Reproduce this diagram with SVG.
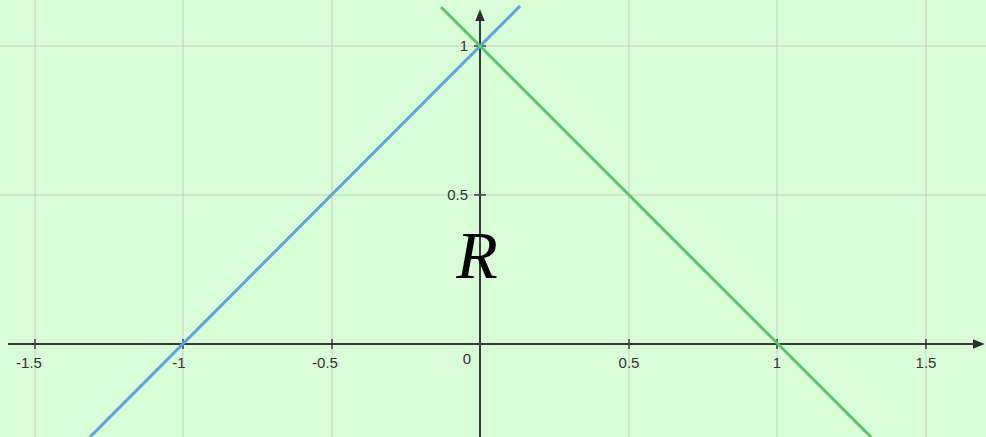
<svg xmlns="http://www.w3.org/2000/svg" width="986" height="437" viewBox="0 0 986 437">
<defs>
<style>
.grid{stroke:#c6cdc4;stroke-width:1}
.axis{stroke:#3a3a3a;stroke-width:2}
.tick{stroke:#3a3a3a;stroke-width:1.5}
.lbl{font-family:"Liberation Sans",Arial,sans-serif;font-size:15px;fill:#333}
</style>
<marker id="ah" viewBox="0 0 10 10" refX="1" refY="5" markerWidth="6" markerHeight="6" orient="auto" markerUnits="strokeWidth">
<path d="M0,1 L10,5 L0,9 z" fill="#2e2e2e"/>
</marker>
</defs>
<rect x="0" y="0" width="986" height="437" fill="#d9fdd6"/>
<g id="grid">
<line class="grid" x1="35" y1="0" x2="35" y2="437"/>
<line class="grid" x1="183" y1="0" x2="183" y2="437"/>
<line class="grid" x1="332" y1="0" x2="332" y2="437"/>
<line class="grid" x1="629" y1="0" x2="629" y2="437"/>
<line class="grid" x1="777" y1="0" x2="777" y2="437"/>
<line class="grid" x1="926" y1="0" x2="926" y2="437"/>
<line class="grid" x1="0" y1="46" x2="986" y2="46"/>
<line class="grid" x1="0" y1="195" x2="986" y2="195"/>
</g>
<g id="axes">
<line class="axis" x1="8" y1="344" x2="974" y2="344" marker-end="url(#ah)"/>
<line class="axis" x1="480" y1="437" x2="480" y2="20" marker-end="url(#ah)"/>
<line class="tick" x1="35" y1="339" x2="35" y2="349"/>
<line class="tick" x1="183" y1="339" x2="183" y2="349"/>
<line class="tick" x1="332" y1="339" x2="332" y2="349"/>
<line class="tick" x1="629" y1="339" x2="629" y2="349"/>
<line class="tick" x1="777" y1="339" x2="777" y2="349"/>
<line class="tick" x1="926" y1="339" x2="926" y2="349"/>
<line class="tick" x1="474" y1="46" x2="486" y2="46"/>
<line class="tick" x1="474" y1="195" x2="486" y2="195"/>
</g>
<g id="labels">
<text class="lbl" x="29" y="368" text-anchor="middle">-1.5</text>
<text class="lbl" x="179" y="368" text-anchor="middle">-1</text>
<text class="lbl" x="325" y="368" text-anchor="middle">-0.5</text>
<text class="lbl" x="467" y="364" text-anchor="middle">0</text>
<text class="lbl" x="629" y="368" text-anchor="middle">0.5</text>
<text class="lbl" x="777" y="368" text-anchor="middle">1</text>
<text class="lbl" x="926" y="368" text-anchor="middle">1.5</text>
<text class="lbl" x="468" y="51" text-anchor="end">1</text>
<text class="lbl" x="468" y="200" text-anchor="end">0.5</text>
</g>
<g id="connectors">
<line id="blue" x1="90" y1="437" x2="520" y2="6" stroke="#5da3de" stroke-width="3"/>
<line id="green" x1="441" y1="7" x2="871" y2="437" stroke="#5cc468" stroke-width="3"/>
</g>
<g id="region">
<text x="477" y="278" text-anchor="middle" font-family="Liberation Serif,serif" font-style="italic" font-size="68" fill="#000">R</text>
</g>
</svg>
